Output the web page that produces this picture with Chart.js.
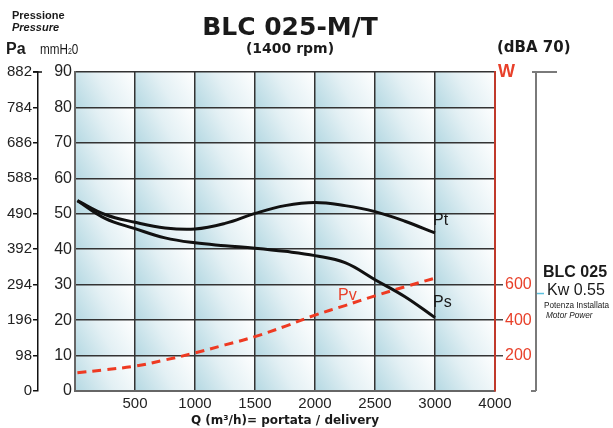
<!DOCTYPE html>
<html>
<head>
<meta charset="utf-8">
<script src="https://cdn.jsdelivr.net/npm/chart.js@4"></script>
<style>
  html, body { margin: 0; padding: 0; background: #fff; }
  #c { display: block; }
</style>
</head>
<body>
<canvas id="c" width="613" height="428"></canvas>
<script>
// ---- data ----
const Q  = [20, 250, 500, 750, 1000, 1250, 1500, 1750, 2000, 2250, 2500, 2750, 3000];
const PT = [53.7, 49.8, 47.6, 46.0, 45.7, 47.3, 50.1, 52.3, 53.2, 52.3, 50.6, 47.9, 44.6];
const PS = [53.7, 48.7, 45.8, 43.2, 41.8, 41.0, 40.3, 39.4, 38.2, 36.2, 31.4, 26.6, 20.7];
const PV = [103, 120, 140, 175, 215, 260, 307, 365, 428, 482, 537, 588, 637];
const X_TICK_VALUES = [500, 1000, 1500, 2000, 2500, 3000, 3500];
const X_TICK_LABELS = ['500', '1000', '1500', '2000', '2500', '3000', '4000'];
const W_TICK_LABELS = [200, 400, 600];
const MOTOR_W = 550;

const pts = (ys) => Q.map((q, i) => ({ x: q, y: ys[i] }));

const cellsPlugin = {
  id: 'cells',
  beforeDraw(chart) {
    const { ctx, scales } = chart;
    const xs = [0].concat(X_TICK_VALUES).map(v => scales.x.getPixelForValue(v));
    const ys = [];
    for (let v = 0; v <= 90; v += 10) ys.push(scales.y.getPixelForValue(v));
    ctx.save();
    for (let i = 0; i < xs.length - 1; i++) {
      for (let j = 0; j < ys.length - 1; j++) {
        const x0 = xs[i], x1 = xs[i + 1], yb = ys[j], yt = ys[j + 1];
        const g = ctx.createLinearGradient(x0, yb, x1, yt);
        g.addColorStop(0, '#b4d8e2');
        g.addColorStop(0.5, '#e3f0f4');
        g.addColorStop(1, '#ffffff');
        ctx.fillStyle = g;
        ctx.fillRect(x0, yt, x1 - x0, yb - yt);
      }
    }
    ctx.restore();
  },
  afterDraw(chart) {
    const { ctx, chartArea, scales } = chart;
    ctx.save();
    ctx.textBaseline = 'alphabetic';
    const SANS = '"Liberation Sans", Arial, sans-serif';
    const DJ = '"DejaVu Sans", sans-serif';
    ctx.fillStyle = '#1a1a1a';
    ctx.textAlign = 'left';
    ctx.font = 'bold 11px ' + SANS;
    ctx.fillText('Pressione', 12, 19);
    ctx.font = 'italic bold 11px ' + SANS;
    ctx.fillText('Pressure', 12, 31);
    ctx.font = 'bold 16px ' + SANS;
    ctx.fillText('Pa', 6, 54);
    // mmH2O
    ctx.save();
    ctx.translate(40, 54); ctx.scale(0.78, 1);
    ctx.font = '15px ' + SANS;
    ctx.fillText('mmH', 0, 0);
    const w1 = ctx.measureText('mmH').width;
    ctx.font = '9px ' + SANS;
    ctx.fillText('2', w1, 0);
    const w2 = ctx.measureText('2').width;
    ctx.font = '15px ' + SANS;
    ctx.fillText('0', w1 + w2, 0);
    ctx.restore();

    // title
    ctx.textAlign = 'center';
    ctx.font = 'bold 25px ' + DJ;
    ctx.fillText('BLC 025-M/T', 290, 35);
    ctx.font = 'bold 14px ' + DJ;
    ctx.fillText('(1400 rpm)', 290, 53);
    ctx.textAlign = 'left';
    ctx.font = 'bold 15px ' + DJ;
    ctx.fillText('(dBA 70)', 497, 52);
    ctx.fillStyle = '#e8402a';
    ctx.font = 'bold 18px ' + SANS;
    ctx.fillText('W', 498, 77);

    // curve labels
    ctx.fillStyle = '#1a1a1a';
    ctx.font = '16px ' + SANS;
    ctx.fillText('Pt', 433, 225);
    ctx.fillText('Ps', 433, 307);
    ctx.fillStyle = '#e8402a';
    ctx.fillText('Pv', 338, 300);

    // right bracket
    const bx = chartArea.right + 41;
    ctx.strokeStyle = '#7a7a7a';
    ctx.lineWidth = 2;
    ctx.beginPath();
    ctx.moveTo(bx - 4, chartArea.top); ctx.lineTo(bx + 21, chartArea.top);
    ctx.moveTo(bx, chartArea.top); ctx.lineTo(bx, chartArea.bottom);
    ctx.moveTo(bx - 5, chartArea.bottom); ctx.lineTo(bx, chartArea.bottom);
    ctx.stroke();
    const my = scales.w.getPixelForValue(MOTOR_W);
    ctx.strokeStyle = '#5bc0de';
    ctx.lineWidth = 1.5;
    ctx.beginPath(); ctx.moveTo(bx + 1, my); ctx.lineTo(bx + 8, my); ctx.stroke();

    ctx.fillStyle = '#1a1a1a';
    ctx.font = 'bold 16px ' + SANS;
    ctx.fillText('BLC 025', 543, 277);
    ctx.font = '16px ' + SANS;
    ctx.fillText('Kw 0.55', 547, 295);
    ctx.font = '8.2px ' + SANS;
    ctx.fillText('Potenza Installata', 544, 308);
    ctx.font = 'italic 8.2px ' + SANS;
    ctx.fillText('Motor Power', 546, 318);

    // Pa axis top cap
    const pa = scales.pa;
    const py = pa.getPixelForValue(882);
    ctx.strokeStyle = '#111';
    ctx.lineWidth = 1.5;
    ctx.beginPath(); ctx.moveTo(pa.right - 5, py); ctx.lineTo(pa.right + 4, py); ctx.stroke();
    ctx.restore();
  }
};

new Chart(document.getElementById('c'), {
  type: 'line',
  data: {
    datasets: [
      { label: 'Pt', data: pts(PT), yAxisID: 'y', borderColor: '#111', borderWidth: 3, pointRadius: 0, tension: 0.4, fill: false },
      { label: 'Ps', data: pts(PS), yAxisID: 'y', borderColor: '#111', borderWidth: 3, pointRadius: 0, tension: 0.4, fill: false },
      { label: 'Pv', data: pts(PV), yAxisID: 'w', borderColor: '#ee3a22', borderWidth: 3, borderDash: [9, 6], pointRadius: 0, tension: 0.4, fill: false }
    ]
  },
  options: {
    responsive: false,
    animation: false,
    devicePixelRatio: 1,
    layout: { padding: { top: 72, right: 77, left: 0, bottom: 0 } },
    plugins: { legend: { display: false }, tooltip: { enabled: false }, title: { display: false } },
    scales: {
      x: {
        type: 'linear', position: 'bottom', min: 0, max: 3500,
        afterBuildTicks: (s) => { s.ticks = [0].concat(X_TICK_VALUES).map(v => ({ value: v })); },
        ticks: {
          callback: (v) => { const i = X_TICK_VALUES.indexOf(v); return i >= 0 ? X_TICK_LABELS[i] : ''; },
          font: { family: '"Liberation Sans", Arial, sans-serif', size: 15 }, color: '#222', padding: 4, maxRotation: 0, autoSkip: false
        },
        grid: { color: '#333', lineWidth: 1.5, drawTicks: false },
        border: { color: '#666', width: 2 },
        title: { display: true, text: 'Q (m³/h)= portata / delivery', font: { family: '"DejaVu Sans", sans-serif', size: 12, weight: 'bold' }, color: '#1a1a1a', padding: 0 },
        afterFit: (s) => { s.height = 37; }
      },
      pa: {
        type: 'linear', position: 'left', weight: 1, min: 0, max: 882,
        ticks: { stepSize: 98, font: { family: '"Liberation Sans", Arial, sans-serif', size: 15 }, color: '#222', padding: 1 },
        grid: { drawOnChartArea: false, tickLength: 5, color: '#111', lineWidth: 1.5 },
        border: { color: '#111', width: 1.5 },
        afterFit: (s) => { s.width = 38; }
      },
      y: {
        type: 'linear', position: 'left', weight: 0, min: 0, max: 90,
        ticks: { stepSize: 10, font: { family: '"Liberation Sans", Arial, sans-serif', size: 16 }, color: '#222', padding: 3 },
        grid: { color: '#333', lineWidth: 1.5, drawTicks: false },
        border: { color: '#666', width: 2 },
        afterFit: (s) => { s.width = 37; }
      },
      w: {
        type: 'linear', position: 'right', min: 0, max: 1800,
        ticks: {
          stepSize: 200,
          callback: (v) => W_TICK_LABELS.includes(v) ? String(v) : '',
          font: { family: '"Liberation Sans", Arial, sans-serif', size: 16 }, color: '#e8402a', padding: 2
        },
        grid: {
          drawOnChartArea: false, tickLength: 8, lineWidth: 1.5,
          color: (c) => (c.tick && W_TICK_LABELS.includes(c.tick.value)) ? '#444' : 'rgba(0,0,0,0)'
        },
        border: { color: '#c0392b', width: 2 },
        afterFit: (s) => { s.width = 41; }
      }
    }
  },
  plugins: [cellsPlugin]
});
</script>
</body>
</html>
